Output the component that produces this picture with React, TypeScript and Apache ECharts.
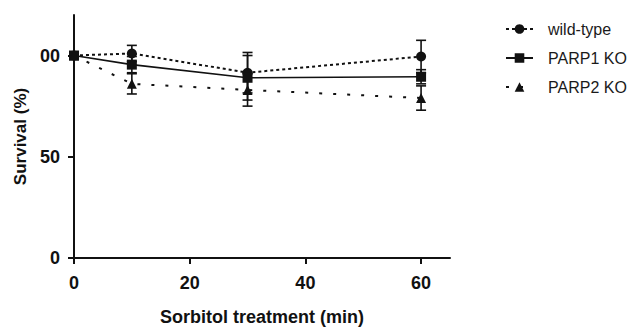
import React, { useEffect, useRef } from "react";
import * as echarts from "echarts";

const timePoints = [0, 10, 30, 60];
const wildType = [100, 101, 91.5, 99.5];
const wildTypeErr = [0, 4, 10, 8];
const parp1 = [100, 95.5, 89, 89.5];
const parp1Err = [0, 4, 11, 3.5];
const parp2 = [100, 86, 83, 79];
const parp2Err = [0, 5, 8, 6];
const xTicks = [0, 20, 40, 60];
const yTicks = [0, 50, 100];
const yTickLabels = ["0", "50", "00"];
const seriesNames = ["wild-type", "PARP1 KO", "PARP2 KO"];

const FONT = "Liberation Sans, Arial, sans-serif";

function errorSeries(vals: number[], errs: number[]) {
  const data = timePoints.map((t, i) => [t, vals[i] - errs[i], vals[i] + errs[i]]);
  return {
    type: "custom",
    silent: true,
    z: 1,
    data,
    renderItem: (params: any, api: any) => {
      const x = api.value(0);
      const lo = api.coord([x, api.value(1)]);
      const hi = api.coord([x, api.value(2)]);
      if (api.value(2) - api.value(1) === 0) return { type: "group", children: [] };
      const hw = 5;
      const style = { stroke: "#111", lineWidth: 1.6 };
      return {
        type: "group",
        children: [
          { type: "line", shape: { x1: lo[0], y1: lo[1], x2: hi[0], y2: hi[1] }, style },
          { type: "line", shape: { x1: lo[0] - hw, y1: lo[1], x2: lo[0] + hw, y2: lo[1] }, style },
          { type: "line", shape: { x1: hi[0] - hw, y1: hi[1], x2: hi[0] + hw, y2: hi[1] }, style },
        ],
      };
    },
  };
}

export default function App() {
  const ref = useRef<HTMLDivElement>(null);
  useEffect(() => {
    if (!ref.current) return;
    const chart = echarts.init(ref.current, undefined, { renderer: "svg" });
    const mk = (vals: number[]) => timePoints.map((t, i) => [t, vals[i]]);
    chart.setOption({
      animation: false,
      grid: { left: 74, top: 15, right: 184, bottom: 69, containLabel: false, outerBoundsMode: "none" },
      legend: {
        orient: "vertical",
        left: 500,
        top: 16,
        itemWidth: 27,
        itemHeight: 12,
        itemGap: 13,
        data: seriesNames,
        textStyle: { fontFamily: FONT, fontSize: 16, color: "#1a1a1a", padding: [0, 0, 0, 10] },
      },
      xAxis: {
        type: "value",
        min: 0,
        max: 65,
        interval: 20,
        splitLine: { show: false },
        axisLine: { show: true, onZero: false, lineStyle: { color: "#111", width: 2 } },
        axisTick: { show: true, length: 6, customValues: xTicks, lineStyle: { color: "#111", width: 2 } },
        axisLabel: {
          customValues: xTicks,
          margin: 16,
          fontFamily: FONT,
          fontSize: 18,
          fontWeight: "bold",
          color: "#111",
        },
        name: "Sorbitol treatment (min)",
        nameLocation: "middle",
        nameGap: 50,
        nameTextStyle: { fontFamily: FONT, fontSize: 18, fontWeight: "bold", color: "#111" },
      },
      yAxis: {
        type: "value",
        min: 0,
        max: 120,
        interval: 50,
        splitLine: { show: false },
        axisLine: { show: true, onZero: false, lineStyle: { color: "#111", width: 2 } },
        axisTick: { show: true, length: 6, customValues: yTicks, lineStyle: { color: "#111", width: 2 } },
        axisLabel: {
          customValues: yTicks,
          margin: 14,
          fontFamily: FONT,
          fontSize: 18,
          fontWeight: "bold",
          color: "#111",
          formatter: (v: number) => {
            const i = yTicks.indexOf(v);
            return i >= 0 ? yTickLabels[i] : "";
          },
        },
        name: "Survival (%)",
        nameLocation: "middle",
        nameGap: 45,
        nameTextStyle: { fontFamily: FONT, fontSize: 17, fontWeight: "bold", color: "#111" },
      },
      series: [
        errorSeries(wildType, wildTypeErr),
        errorSeries(parp1, parp1Err),
        errorSeries(parp2, parp2Err),
        {
          name: seriesNames[0],
          type: "line",
          data: mk(wildType),
          symbol: "circle",
          symbolSize: 10,
          z: 3,
          itemStyle: { color: "#111" },
          lineStyle: { color: "#111", width: 2, type: [3, 3] },
        },
        {
          name: seriesNames[1],
          type: "line",
          data: mk(parp1),
          symbol: "rect",
          symbolSize: 10,
          z: 3,
          itemStyle: { color: "#111" },
          lineStyle: { color: "#111", width: 1.6, type: "solid" },
        },
        {
          name: seriesNames[2],
          type: "line",
          data: mk(parp2),
          symbol: "triangle",
          symbolSize: 10,
          z: 3,
          itemStyle: { color: "#111" },
          lineStyle: { color: "#111", width: 2, type: [3, 11] },
        },
      ],
    });
    return () => chart.dispose();
  }, []);
  return <div ref={ref} style={{ width: 634, height: 327, position: "absolute", left: 0, top: 0 }} />;
}
